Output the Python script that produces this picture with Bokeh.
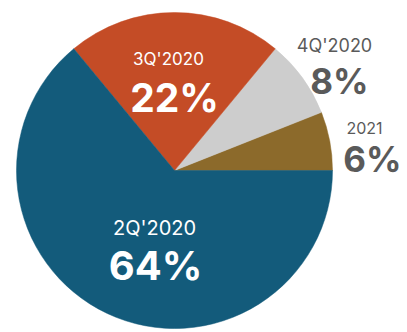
import math
from bokeh.plotting import figure
from bokeh.models import ColumnDataSource, Range1d
from bokeh.core.properties import value
from bokeh.embed import file_html
from bokeh.resources import INLINE

# ---- data ----
categories = ["2021", "4Q'2020", "3Q'2020", "2Q'2020"]
shares = [6, 8, 22, 64]

# ---- styles / layout ----
colors = ["#8C6A2B", "#CDCDCD", "#C44C26", "#135B7B"]
label_colors = ["#5A5A5A", "#5A5A5A", "#FFFFFF", "#FFFFFF"]
# label anchor (pixel coords from top-left)
label_x = [364, 334, 168, 154]
pct_x = [372, 339, 174, 155]
small_base = [127, 45, 58, 227]
pct_base = [158, 80, 97, 265]
small_size = ["16px", "18px", "17px", "20px"]
pct_size = ["35px", "35px", "39px", "40px"]

W, H = 407, 332
cx, cy, r = 174, 170, 158

total = sum(shares)
starts, ends = [], []
acc = 0.0
for s in shares:
    starts.append(2 * math.pi * acc / total)
    acc += s
    ends.append(2 * math.pi * acc / total)

p = figure(width=W, height=H, output_backend="svg", toolbar_location=None,
           x_range=Range1d(0, W), y_range=Range1d(0, H),
           min_border=0, outline_line_color=None)
p.axis.visible = False
p.grid.visible = False

src = ColumnDataSource(dict(cat=categories, start=starts, end=ends, color=colors))
p.wedge(x=cx, y=H - cy, radius=r, start_angle="start", end_angle="end",
        direction="anticlock", fill_color="color", line_color="color",
        line_width=0.5, source=src)

small = ColumnDataSource(dict(x=label_x, y=[H - b for b in small_base],
                              text=categories, c=label_colors, s=small_size))
p.text(x="x", y="y", text="text", text_color="c", text_font_size="s",
       text_font=value("Inter"), text_align="center",
       text_baseline="alphabetic", source=small)

pct = ColumnDataSource(dict(x=pct_x, y=[H - b for b in pct_base],
                            text=[f"{v}%" for v in shares], c=label_colors, s=pct_size))
p.text(x="x", y="y", text="text", text_color="c", text_font_size="s",
       text_font=value("Inter"), text_font_style="bold", text_align="center",
       text_baseline="alphabetic", source=pct)

open("out.html", "w").write(file_html(p, INLINE))
